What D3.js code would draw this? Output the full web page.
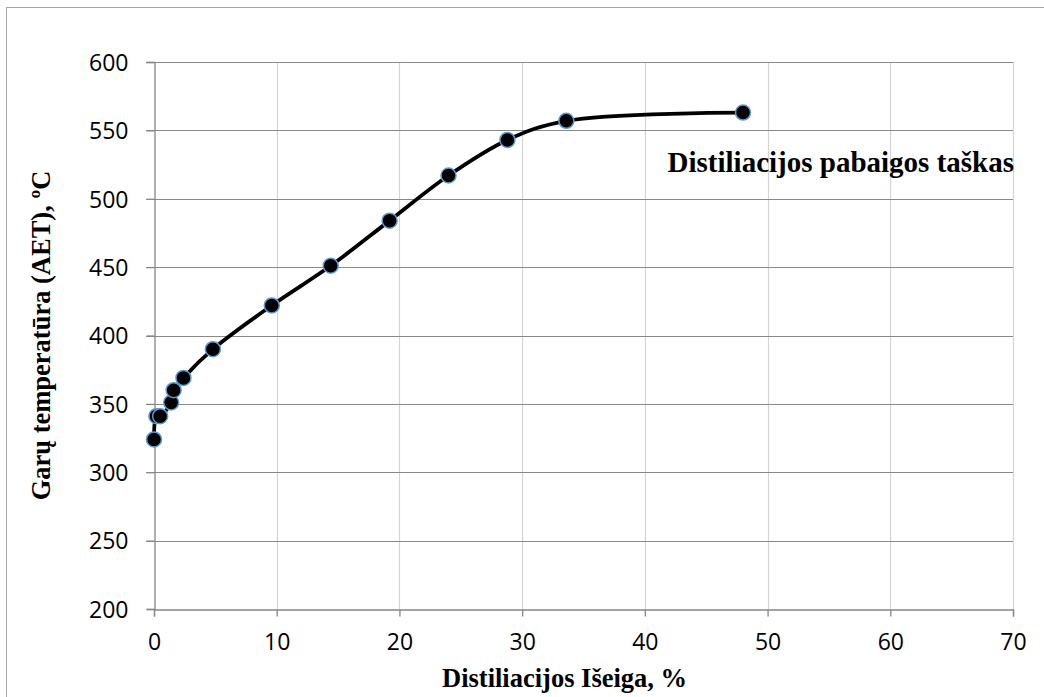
<!DOCTYPE html>
<html>
<head>
<meta charset="utf-8">
<script src="https://cdn.jsdelivr.net/npm/d3@7"></script>
<style>
  body { margin: 0; background: #fff; }
  .tick-label { font-family: "Open Sans", sans-serif; font-size: 23px; fill: #000; }
  .title { font-family: "Liberation Serif", "Times New Roman", serif; font-weight: bold; fill: #000; }
</style>
</head>
<body>
<div id="chart"></div>
<script>
const xValues = [0, 0.2, 0.5, 1.4, 1.6, 2.4, 4.8, 9.6, 14.4, 19.2, 24.0, 28.8, 33.6, 48.0]
const yValues = [324, 341, 341, 351, 360, 369, 390, 422, 451, 484, 517, 543, 557, 563]
const xTicks = [0, 10, 20, 30, 40, 50, 60, 70]
const yTicks = [200, 250, 300, 350, 400, 450, 500, 550, 600]
const xLabel = "Distiliacijos Išeiga, %"
const yLabel = "Garų temperatūra (AET), ºC"
const note = "Distiliacijos pabaigos taškas"

const W = 1044, H = 697
const M = { TOP: 62, BOTTOM: 88, LEFT: 154, RIGHT: 31 }

const svg = d3.select("#chart").append("svg")
    .attr("width", W)
    .attr("height", H)

// chart frame, runs off the bottom/right of the picture
svg.append("rect")
    .attr("x", 6.5).attr("y", 7.5)
    .attr("width", W + 20).attr("height", H + 20)
    .attr("fill", "none")
    .attr("stroke", "#a6a6a6")

const x = d3.scaleLinear().domain([0, 70]).range([M.LEFT, W - M.RIGHT])
const y = d3.scaleLinear().domain([200, 600]).range([H - M.BOTTOM, M.TOP])

const g = svg.append("g")

// vertical gridlines (light)
g.selectAll(".vgrid")
    .data(xTicks.filter(d => d > 0))
    .enter().append("line")
    .attr("x1", d => Math.round(x(d)) + 0.5).attr("x2", d => Math.round(x(d)) + 0.5)
    .attr("y1", y(600)).attr("y2", y(200))
    .attr("stroke", "#d4d4d4").attr("stroke-width", 1.2)

// horizontal gridlines (darker)
g.selectAll(".hgrid")
    .data(yTicks.filter(d => d > 200))
    .enter().append("line")
    .attr("x1", x(0) - 8).attr("x2", x(70))
    .attr("y1", d => Math.round(y(d)) + 0.5).attr("y2", d => Math.round(y(d)) + 0.5)
    .attr("stroke", "#8a8a8a").attr("stroke-width", 1.2)

// axes
const xAxis = d3.axisBottom(x).tickValues(xTicks).tickSize(7).tickPadding(17)
const yAxis = d3.axisLeft(y).tickValues(yTicks).tickSize(8).tickPadding(18)

const gx = g.append("g")
    .attr("transform", `translate(0, ${Math.round(y(200)) + 0.5})`)
    .call(xAxis)
const gy = g.append("g")
    .attr("transform", `translate(${Math.round(x(0)) + 0.5}, 0)`)
    .call(yAxis)

;[gx, gy].forEach(a => {
    a.select(".domain").attr("stroke", "#868686").attr("stroke-width", 1.3)
    a.selectAll(".tick line").attr("stroke", "#868686").attr("stroke-width", 1.3)
    a.selectAll(".tick text").attr("class", "tick-label").attr("fill", "#000")
})
gy.selectAll(".tick text").attr("dy", "0.36em")

// smoothed line
const data = xValues.map((d, i) => ({ x: d, y: yValues[i] }))
const line = d3.line()
    .x(d => x(d.x))
    .y(d => y(d.y))
    .curve(d3.curveCatmullRom.alpha(0.5))

g.append("path")
    .datum(data)
    .attr("d", line)
    .attr("fill", "none")
    .attr("stroke", "#000")
    .attr("stroke-width", 3.8)

g.selectAll(".pt")
    .data(data)
    .enter().append("circle")
    .attr("cx", d => x(d.x))
    .attr("cy", d => y(d.y))
    .attr("r", 7.5)
    .attr("fill", "#000")
    .attr("stroke", "#5b9bd5")
    .attr("stroke-width", 1.5)

// texts
svg.append("text")
    .attr("class", "title")
    .attr("x", 1014).attr("y", 172)
    .attr("text-anchor", "end")
    .style("font-size", "29px")
    .text(note)

svg.append("text")
    .attr("class", "title")
    .attr("x", 442).attr("y", 687)
    .attr("text-anchor", "start")
    .style("font-size", "26.5px")
    .text(xLabel)

svg.append("text")
    .attr("class", "title")
    .attr("transform", `translate(50, ${(y(200) + y(600)) / 2}) rotate(-90)`)
    .attr("text-anchor", "middle")
    .style("font-size", "26.5px")
    .text(yLabel)
</script>
</body>
</html>
